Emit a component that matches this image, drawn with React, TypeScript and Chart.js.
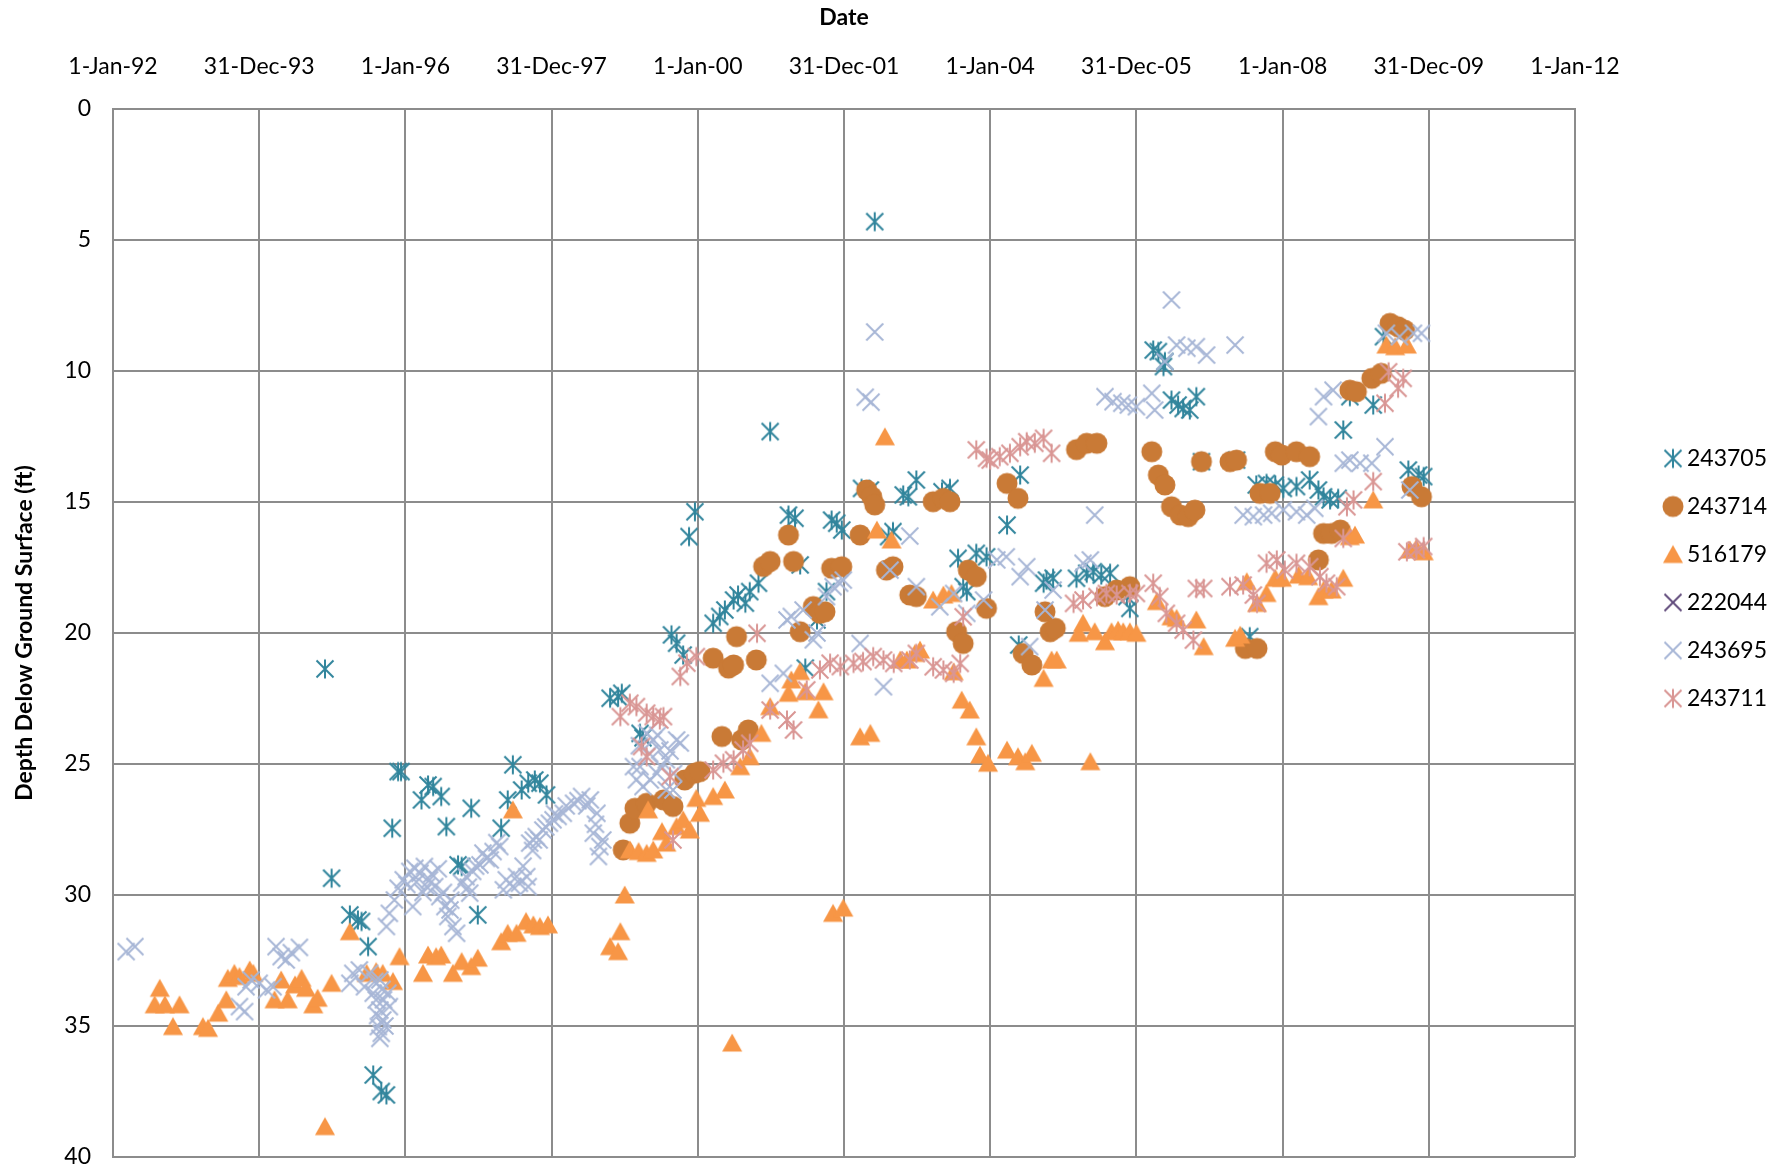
import React, { useEffect, useRef } from 'react';
import { Chart, registerables } from 'chart.js';

Chart.register(...registerables);

// ---------- DATA (x = decimal year, y = depth below ground surface in ft) ----------
const seriesNames = ['243705', '243714', '516179', '222044', '243695', '243711'];

const s243705: [number, number][] = [
  [1994.90, 21.37], [1994.99, 29.36], [1995.24, 30.76], [1995.35, 30.95], [1995.40, 31.01], [1995.49, 31.97],
  [1995.56, 36.87], [1995.67, 37.50], [1995.74, 37.63], [1995.82, 27.45], [1995.90, 25.29], [1995.94, 25.29],
  [1996.22, 26.37], [1996.31, 25.80], [1996.38, 25.86], [1996.49, 26.24], [1996.56, 27.39], [1996.72, 28.85],
  [1996.77, 28.91], [1996.90, 26.69], [1996.99, 30.76], [1997.31, 27.45], [1997.40, 26.37], [1997.47, 25.03],
  [1997.59, 25.99], [1997.68, 25.73], [1997.77, 25.61], [1997.84, 25.73], [1997.93, 26.18],
  [1998.80, 22.49], [1998.91, 22.43], [1998.96, 22.30], [1999.21, 23.83], [1999.25, 24.00], [1999.64, 20.07],
  [1999.71, 20.39], [1999.80, 20.84], [1999.88, 16.32], [1999.96, 15.37], [2000.21, 19.63], [2000.30, 19.37],
  [2000.37, 19.12], [2000.49, 18.74], [2000.55, 18.55], [2000.65, 18.86], [2000.71, 18.42], [2000.83, 18.10],
  [2000.99, 12.31], [2001.24, 15.50], [2001.33, 15.62], [2001.40, 17.40], [2001.47, 21.34], [2001.63, 19.50],
  [2001.76, 18.42], [2001.83, 15.69], [2001.90, 15.81], [2001.97, 16.07], [2002.24, 14.48], [2002.36, 14.54],
  [2002.42, 4.30], [2002.61, 16.32], [2002.67, 16.13], [2002.81, 14.73], [2002.88, 14.80], [2002.99, 14.16],
  [2003.34, 14.61], [2003.45, 14.48], [2003.56, 17.15], [2003.63, 18.23], [2003.68, 18.42], [2003.81, 16.96],
  [2003.95, 17.09], [2004.23, 15.88], [2004.39, 20.46], [2004.41, 13.97], [2004.73, 18.10], [2004.77, 17.98],
  [2004.86, 17.91], [2005.18, 17.91], [2005.32, 17.72], [2005.41, 17.66], [2005.52, 17.79], [2005.64, 17.72],
  [2005.87, 18.61], [2005.91, 19.06], [2006.23, 9.20], [2006.30, 9.26], [2006.37, 9.83], [2006.39, 9.64],
  [2006.48, 11.11], [2006.57, 11.30], [2006.64, 11.43], [2006.73, 11.49], [2006.82, 10.98], [2006.89, 13.46],
  [2007.37, 13.40], [2007.55, 20.14], [2007.64, 14.35], [2007.78, 14.29], [2007.90, 14.35], [2008.01, 14.48],
  [2008.19, 14.41], [2008.37, 14.16], [2008.49, 14.54], [2008.56, 14.80], [2008.65, 14.92], [2008.76, 14.86],
  [2008.83, 12.25], [2008.92, 10.98], [2009.24, 11.30], [2009.38, 8.69], [2009.72, 13.78], [2009.86, 13.97],
  [2009.93, 14.03],
];

const s243714: [number, number][] = [
  [1998.98, 28.28], [1999.07, 27.26], [1999.14, 26.69], [1999.30, 26.50], [1999.53, 26.37], [1999.66, 26.62],
  [1999.82, 25.61], [1999.96, 25.35], [2000.03, 25.29], [2000.33, 23.95], [2000.60, 24.08], [2000.69, 23.70],
  [2000.21, 20.96], [2000.42, 21.34], [2000.49, 21.22], [2000.53, 20.14], [2000.80, 21.03], [2000.90, 17.46],
  [2000.99, 17.27], [2001.24, 16.26], [2001.31, 17.27], [2001.40, 19.95], [2001.58, 18.99], [2001.67, 19.25],
  [2001.74, 19.19], [2001.83, 17.53], [2001.97, 17.47], [2002.22, 16.26], [2002.31, 14.54], [2002.38, 14.80],
  [2002.42, 15.11], [2002.58, 17.60], [2002.67, 17.47], [2002.90, 18.55], [2002.99, 18.61], [2003.22, 14.99],
  [2003.36, 14.86], [2003.45, 14.99], [2003.54, 19.95], [2003.63, 20.40], [2003.70, 17.60], [2003.81, 17.85],
  [2003.95, 19.06], [2004.23, 14.29], [2004.38, 14.86], [2004.45, 20.78], [2004.57, 21.22], [2004.75, 19.19],
  [2004.82, 19.95], [2004.89, 19.82], [2005.18, 13.00], [2005.32, 12.76], [2005.46, 12.76], [2005.57, 18.61],
  [2005.73, 18.36], [2005.91, 18.23], [2006.21, 13.08], [2006.30, 13.97], [2006.39, 14.35], [2006.48, 15.18],
  [2006.60, 15.50], [2006.71, 15.56], [2006.80, 15.31], [2006.89, 13.46], [2007.28, 13.46], [2007.37, 13.40],
  [2007.49, 20.59], [2007.65, 20.59], [2007.69, 14.67], [2007.83, 14.67], [2007.90, 13.08], [2007.99, 13.21],
  [2008.19, 13.08], [2008.37, 13.27], [2008.49, 17.21], [2008.56, 16.20], [2008.67, 16.20], [2008.79, 16.07],
  [2008.92, 10.73], [2009.01, 10.79], [2009.22, 10.28], [2009.35, 10.09], [2009.47, 8.18], [2009.58, 8.31],
  [2009.67, 8.44], [2009.77, 14.41], [2009.90, 14.80],
];

const s516179: [number, number][] = [
  [1992.64, 33.56], [1992.57, 34.19], [1992.71, 34.19], [1992.91, 34.19], [1992.82, 35.02], [1993.23, 35.02],
  [1993.30, 35.09], [1993.44, 34.51], [1993.55, 34.00], [1993.57, 33.18], [1993.66, 32.99], [1993.73, 33.11],
  [1993.87, 32.86], [1993.92, 32.99], [1994.21, 34.00], [1994.30, 33.24], [1994.39, 34.00], [1994.49, 33.43],
  [1994.58, 33.18], [1994.64, 33.56], [1994.74, 34.19], [1994.80, 33.94], [1994.99, 33.37], [1994.90, 38.84],
  [1995.24, 31.40], [1995.47, 32.99], [1995.60, 32.92], [1995.69, 32.99], [1995.83, 33.30], [1995.92, 32.35],
  [1996.24, 32.99], [1996.31, 32.29], [1996.42, 32.35], [1996.49, 32.29], [1996.65, 32.99], [1996.77, 32.54],
  [1996.90, 32.73], [1996.99, 32.41], [1997.31, 31.78], [1997.40, 31.46], [1997.52, 31.46], [1997.65, 31.01],
  [1997.75, 31.14], [1997.84, 31.20], [1997.95, 31.14], [1997.47, 26.75],
  [1999.00, 30.00], [1998.94, 31.40], [1998.80, 31.97], [1998.91, 32.16], [1999.07, 28.28], [1999.19, 28.34],
  [1999.30, 28.41], [1999.39, 28.28], [1999.32, 26.75], [1999.51, 27.58], [1999.57, 28.02], [1999.71, 27.39],
  [1999.80, 27.13], [1999.89, 27.52], [1999.98, 26.31], [2000.03, 26.88], [2000.21, 26.24], [2000.37, 25.99],
  [2000.47, 35.65], [2000.58, 25.10], [2000.71, 24.72], [2000.87, 23.83], [2000.99, 22.81], [2001.28, 21.79],
  [2001.40, 21.47], [2001.24, 22.30], [2001.47, 22.24], [2001.65, 22.93], [2001.72, 22.24], [2001.85, 30.70],
  [2001.99, 30.50], [2002.56, 12.51], [2002.45, 16.07], [2002.65, 16.45], [2002.22, 23.96], [2002.36, 23.83],
  [2002.77, 21.03], [2002.86, 21.03], [2002.97, 20.78], [2003.04, 20.65], [2003.22, 18.74], [2003.36, 18.55],
  [2003.47, 18.49], [2003.50, 21.48], [2003.61, 22.56], [2003.72, 22.94], [2003.81, 23.96], [2003.86, 24.66],
  [2003.97, 24.97], [2004.23, 24.47], [2004.38, 24.72], [2004.48, 24.91], [2004.57, 24.59], [2005.37, 24.91],
  [2004.73, 21.73], [2004.84, 21.03], [2004.91, 21.03], [2005.21, 20.01], [2005.27, 19.63], [2005.43, 19.95],
  [2005.57, 20.33], [2005.66, 19.95], [2005.75, 19.89], [2005.82, 19.95], [2005.91, 19.95], [2006.00, 20.01],
  [2006.28, 18.80], [2006.48, 19.38], [2006.55, 19.44], [2006.82, 19.50], [2006.92, 20.52], [2007.35, 20.20],
  [2007.42, 20.08], [2007.51, 18.04], [2007.65, 18.87], [2007.78, 18.49], [2007.90, 17.91], [2007.99, 17.91],
  [2008.22, 17.79], [2008.35, 17.85], [2008.49, 18.61], [2008.56, 18.36], [2008.67, 18.36], [2008.83, 17.91],
  [2008.92, 16.32], [2008.99, 16.26], [2009.24, 14.92], [2009.42, 9.01], [2009.54, 9.07], [2009.70, 9.01],
  [2009.74, 16.83], [2009.83, 16.77], [2009.93, 16.90],
];

const s222044: [number, number][] = [];

const s243695: [number, number][] = [
  [1992.18, 32.16], [1992.30, 31.97], [1993.73, 34.26], [1993.80, 34.45], [1993.82, 33.50], [1993.89, 33.24],
  [1994.00, 33.37], [1994.10, 33.62], [1994.19, 33.50], [1994.23, 31.97], [1994.30, 32.35], [1994.37, 32.48],
  [1994.44, 32.20], [1994.55, 32.00], [1995.24, 33.37], [1995.28, 32.99], [1995.37, 32.86], [1995.44, 33.50],
  [1995.51, 32.99], [1995.56, 33.75], [1995.60, 34.00], [1995.65, 33.24], [1995.65, 34.39], [1995.69, 34.77],
  [1995.63, 35.02], [1995.67, 35.28], [1995.65, 35.47], [1995.76, 33.75], [1995.78, 34.26], [1995.74, 31.20],
  [1995.58, 33.30], [1995.70, 34.00], [1995.62, 34.60], [1995.72, 35.00], [1995.68, 33.60],
  [1995.78, 30.70], [1995.85, 30.19], [1995.90, 29.74], [1995.97, 29.42], [1996.06, 29.10], [1996.13, 28.98],
  [1996.10, 30.44], [1996.20, 29.17], [1996.26, 28.91], [1996.33, 29.42], [1996.40, 29.68], [1996.47, 30.06],
  [1996.54, 30.44], [1996.58, 30.82], [1996.65, 31.20], [1996.70, 31.46], [1996.77, 29.55], [1996.83, 29.30],
  [1996.92, 29.10], [1997.02, 28.85], [1997.11, 28.60], [1997.20, 28.34], [1997.29, 28.15], [1997.38, 29.42],
  [1997.47, 29.68], [1997.56, 29.55], [1997.68, 29.68], [1997.70, 28.02], [1997.79, 27.77], [1997.88, 27.52],
  [1997.97, 27.26], [1998.09, 27.00], [1996.29, 29.68], [1996.61, 30.57], [1996.88, 29.93], [1997.16, 28.66],
  [1997.66, 29.30], [1997.75, 27.90],
  [1996.02, 29.60], [1996.15, 29.50], [1996.24, 29.90], [1996.36, 29.20], [1996.45, 29.00], [1996.52, 29.90],
  [1996.62, 30.20], [1996.86, 29.70], [1996.96, 28.90], [1997.06, 28.40], [1997.25, 28.00], [1997.34, 29.80],
  [1997.52, 29.30], [1997.61, 28.90], [1997.74, 28.30], [1997.83, 27.90], [1997.92, 27.40], [1998.04, 26.90],
  [1998.20, 26.60], [1998.36, 26.40], [1998.48, 26.60], [1998.60, 27.30], [1998.70, 27.90],
  [1998.02, 27.13], [1998.16, 26.88], [1998.30, 26.50], [1998.41, 26.24], [1998.53, 26.37], [1998.62, 26.88],
  [1998.57, 27.64], [1998.66, 28.15], [1998.64, 28.53], [1999.12, 25.10], [1999.16, 25.60], [1999.25, 25.86],
  [1999.30, 23.83], [1999.39, 24.08], [1999.48, 24.46], [1999.57, 24.84], [1999.71, 24.08], [1999.44, 25.35],
  [1999.57, 25.99], [1999.66, 25.99], [1999.21, 25.10], [1999.35, 25.61], [1999.67, 25.36],
  [1999.20, 24.30], [1999.34, 24.60], [1999.50, 25.10], [1999.62, 24.50], [1999.45, 23.90], [1999.76, 24.20],
  [2000.99, 21.92], [2001.17, 21.54], [2001.28, 19.37], [2001.44, 19.12], [2001.58, 20.26], [2001.76, 18.61],
  [2001.94, 18.10], [2001.22, 19.50], [2001.63, 20.00], [2001.85, 18.23], [2001.99, 17.98], [2002.22, 20.40],
  [2002.29, 11.00], [2002.37, 11.19], [2002.42, 8.51], [2002.63, 17.60], [2002.90, 16.30], [2002.99, 18.23],
  [2002.54, 22.05], [2003.31, 19.00], [2003.50, 18.49], [2003.68, 19.25], [2003.91, 18.74], [2004.22, 17.09],
  [2004.41, 17.85], [2004.50, 17.47], [2004.54, 20.52], [2004.09, 17.21], [2004.75, 19.12], [2004.86, 18.36],
  [2005.27, 17.34], [2005.37, 17.21], [2005.43, 15.50], [2005.57, 10.98], [2005.68, 11.17], [2005.80, 11.23],
  [2005.89, 11.30], [2006.00, 11.36], [2006.21, 10.85], [2006.25, 11.49], [2006.39, 9.64], [2006.48, 7.29],
  [2006.55, 9.01], [2006.69, 9.13], [2006.82, 9.07], [2006.96, 9.39], [2007.35, 9.01], [2007.46, 15.50],
  [2007.60, 15.56], [2007.74, 15.50], [2007.85, 15.43], [2008.01, 15.30], [2008.19, 15.37], [2008.33, 15.50],
  [2008.44, 15.24], [2008.49, 11.74], [2008.56, 10.98], [2008.69, 10.73], [2008.83, 13.52], [2008.92, 13.40],
  [2009.06, 13.52], [2009.22, 13.52], [2009.40, 12.89], [2009.74, 14.54], [2009.42, 8.56], [2009.60, 8.69],
  [2009.79, 8.56], [2009.90, 8.56],
];

const s243711: [number, number][] = [
  [1998.94, 23.19], [1999.07, 22.68], [1999.16, 22.81], [1999.30, 23.06], [1999.39, 23.19], [1999.48, 23.32],
  [1999.53, 23.19], [1999.23, 24.33], [1999.30, 24.72], [1999.62, 25.48], [1999.66, 27.90], [1999.76, 21.66],
  [1999.85, 21.15], [1999.98, 20.90], [2000.21, 25.23], [2000.35, 24.97], [2000.49, 24.84], [2000.62, 24.46],
  [2000.71, 24.21], [2000.81, 20.01], [2000.99, 22.94], [2001.22, 23.32], [2001.31, 23.70], [2001.49, 22.17],
  [2001.67, 21.41], [2001.81, 21.15], [2001.95, 21.28], [2002.13, 21.16], [2002.26, 21.09], [2002.40, 20.90],
  [2002.54, 21.03], [2002.68, 21.16], [2002.90, 21.03], [2002.99, 20.78], [2003.22, 21.29], [2003.36, 21.41],
  [2003.50, 21.54], [2003.59, 21.16], [2003.63, 19.38], [2003.81, 13.01], [2003.95, 13.33], [2004.00, 13.40],
  [2004.13, 13.27], [2004.27, 13.14], [2004.41, 12.89], [2004.50, 12.70], [2004.61, 12.76], [2004.73, 12.57],
  [2004.84, 13.14], [2005.14, 18.87], [2005.27, 18.74], [2005.46, 18.61], [2005.59, 18.49], [2005.73, 18.55],
  [2005.91, 18.49], [2006.00, 18.49], [2006.23, 18.10], [2006.32, 18.61], [2006.41, 19.25], [2006.55, 19.63],
  [2006.64, 19.89], [2006.78, 20.27], [2006.82, 18.30], [2006.92, 18.30], [2007.28, 18.23], [2007.46, 18.17],
  [2007.60, 18.55], [2007.65, 18.87], [2007.78, 17.34], [2007.92, 17.21], [2008.03, 17.60], [2008.19, 17.34],
  [2008.37, 17.47], [2008.51, 17.85], [2008.60, 18.10], [2008.74, 18.23], [2008.83, 16.39], [2008.88, 15.18],
  [2008.97, 14.92], [2009.24, 14.22], [2009.40, 11.23], [2009.45, 10.03], [2009.58, 10.66], [2009.65, 10.28],
  [2009.70, 16.90], [2009.83, 16.83], [2009.93, 16.70],
];

// axis: days counted from 1-Jan-1992, Excel-style major unit of 730.5 days
const X_MIN_DAYS = 0;
const X_MAX_DAYS = 7305;
const X_STEP_DAYS = 730.5;
const Y_MIN = 0;
const Y_MAX = 40;
const Y_STEP = 5;
const MONTHS = ['Jan', 'Feb', 'Mar', 'Apr', 'May', 'Jun', 'Jul', 'Aug', 'Sep', 'Oct', 'Nov', 'Dec'];

const W = 1787;
const H = 1170;
const FONT = 'Lato, "Open Sans", sans-serif';

function yearToDays(y: number) {
  return (y - 1992) * 365.25;
}
function fmtDate(days: number) {
  const d = new Date(Date.UTC(1992, 0, 1) + Math.round(days * 86400000));
  const yy = String(d.getUTCFullYear() % 100).padStart(2, '0');
  return `${d.getUTCDate()}-${MONTHS[d.getUTCMonth()]}-${yy}`;
}

function makeMarker(kind: string, color: string) {
  const size = 24;
  const c = document.createElement('canvas');
  c.width = size;
  c.height = size;
  const g = c.getContext('2d')!;
  const m = size / 2;
  g.strokeStyle = color;
  g.fillStyle = color;
  g.lineCap = 'butt';
  if (kind === 'circle') {
    g.beginPath();
    g.arc(m, m, 10.5, 0, Math.PI * 2);
    g.fill();
  } else if (kind === 'triangle') {
    g.beginPath();
    g.moveTo(m, m - 9.5);
    g.lineTo(m + 10, m + 8.5);
    g.lineTo(m - 10, m + 8.5);
    g.closePath();
    g.fill();
  } else {
    const r = 8.5;
    g.lineWidth = kind === 'x' ? 1.9 : 2;
    g.beginPath();
    g.moveTo(m - r, m - r);
    g.lineTo(m + r, m + r);
    g.moveTo(m + r, m - r);
    g.lineTo(m - r, m + r);
    if (kind === 'star') {
      g.moveTo(m, m - r - 1);
      g.lineTo(m, m + r + 1);
    }
    g.stroke();
  }
  return c;
}

export default function App() {
  const ref = useRef<HTMLCanvasElement>(null);

  useEffect(() => {
    const canvas = ref.current;
    if (!canvas) return;

    const LEG_FS = 23;
    const LEG_PAD = 25;
    const BOXW = 5;
    const meas = document.createElement('canvas').getContext('2d')!;
    meas.font = `${LEG_FS}px ${FONT}`;
    const textW = Math.max(...seriesNames.map((n) => meas.measureText(n).width));
    const legendW = LEG_PAD + BOXW + LEG_FS / 2 + textW + 10;
    const legendLeft = 1673 - LEG_PAD - BOXW / 2;
    const padRight = Math.max(0, W - legendLeft - legendW);
    const PLOT_LEFT = 113;
    const PLOT_TOP = 109;
    const PLOT_RIGHT = 1575;
    const PLOT_BOTTOM = 1157;
    const gapW = legendLeft - PLOT_RIGHT;

    const toPts = (arr: [number, number][]) => arr.map(([yr, d]) => ({ x: yearToDays(yr), y: d }));

    const defs = [
      { label: '243711', data: s243711, marker: makeMarker('star', '#D99694') },
      { label: '243695', data: s243695, marker: makeMarker('x', '#A7B6D6') },
      { label: '222044', data: s222044, marker: makeMarker('x', '#604A7B') },
      { label: '516179', data: s516179, marker: makeMarker('triangle', '#F79646') },
      { label: '243714', data: s243714, marker: makeMarker('circle', '#C97A36') },
      { label: '243705', data: s243705, marker: makeMarker('star', '#31859C') },
    ];

    const gridColor = '#8c8c8c';

    const chart = new Chart(canvas, {
      type: 'scatter',
      data: {
        datasets: defs.map((d) => ({
          label: d.label,
          data: toPts(d.data),
          pointStyle: d.marker as any,
          pointRadius: 9,
          pointHoverRadius: 9,
          showLine: false,
          borderColor: 'transparent',
          backgroundColor: 'transparent',
        })),
      },
      options: {
        responsive: false,
        animation: false,
        devicePixelRatio: 1,
        layout: { padding: { top: 0, left: 0, bottom: H - PLOT_BOTTOM, right: padRight } },
        plugins: {
          tooltip: { enabled: false },
          legend: {
            position: 'right',
            reverse: true,
            labels: {
              usePointStyle: true,
              pointStyleWidth: BOXW,
              padding: LEG_PAD,
              color: '#000',
              font: { family: FONT, size: LEG_FS },
            },
          },
        },
        scales: {
          x: {
            type: 'linear',
            position: 'top',
            min: X_MIN_DAYS,
            max: X_MAX_DAYS,
            afterFit: (s: any) => {
              s.height = PLOT_TOP;
              s.paddingLeft = 0;
              s.paddingRight = 0;
            },
            ticks: {
              stepSize: X_STEP_DAYS,
              autoSkip: false,
              maxRotation: 0,
              padding: 29,
              color: '#000',
              font: { family: FONT, size: 23 },
              callback: (v: any) => fmtDate(Number(v)),
            },
            grid: { color: gridColor, lineWidth: 2, drawTicks: false },
            border: { color: gridColor, width: 2 },
            title: {
              display: true,
              text: 'Date',
              color: '#000',
              font: { family: FONT, size: 23, weight: 'bold' },
              padding: { top: 4, bottom: 0 },
            },
          },
          y: {
            type: 'linear',
            position: 'left',
            reverse: true,
            min: Y_MIN,
            max: Y_MAX,
            afterFit: (s: any) => {
              s.width = PLOT_LEFT;
              s.paddingTop = 0;
              s.paddingBottom = 0;
            },
            ticks: {
              stepSize: Y_STEP,
              padding: 22,
              color: '#000',
              font: { family: FONT, size: 23, lineHeight: 1 },
            },
            grid: { color: gridColor, lineWidth: 2, drawTicks: false },
            border: { color: gridColor, width: 2 },
            title: {
              display: true,
              text: 'Depth Delow Ground Surface (ft)',
              color: '#000',
              font: { family: FONT, size: 23, weight: 'bold' },
              padding: { top: 11, bottom: 0 },
            },
          },
          gap: {
            type: 'linear',
            position: 'right',
            display: true,
            afterFit: (s: any) => {
              s.width = gapW;
              s.paddingTop = 0;
              s.paddingBottom = 0;
            },
            ticks: { display: false },
            grid: { display: false },
            border: { display: false },
          },
        },
      } as any,
    });

    return () => chart.destroy();
  }, []);

  return (
    <div style={{ position: 'fixed', left: 0, top: 0, width: W, height: H, background: '#fff' }}>
      <canvas ref={ref} width={W} height={H} style={{ display: 'block' }} />
    </div>
  );
}
